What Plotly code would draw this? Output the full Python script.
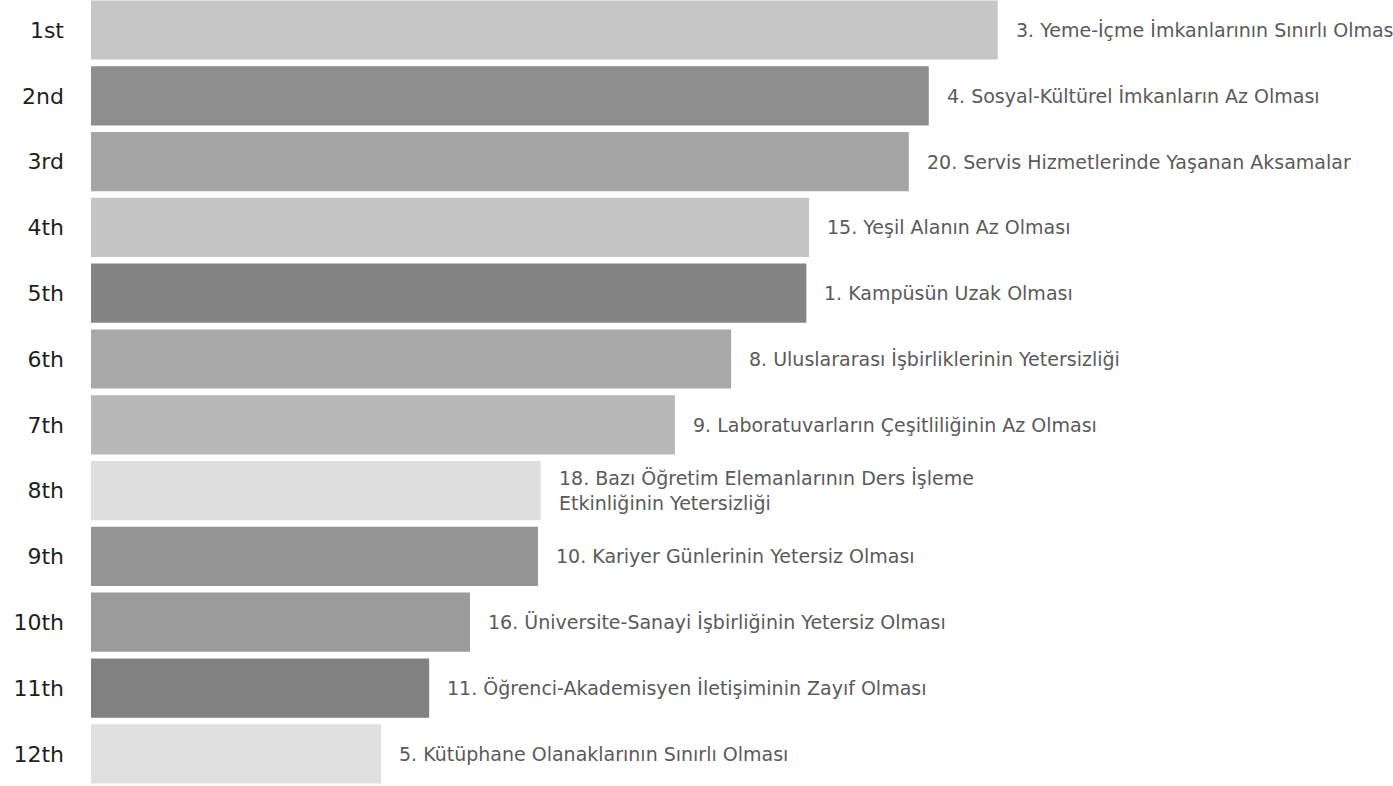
import plotly.graph_objects as go

ranks = ["1st", "2nd", "3rd", "4th", "5th", "6th", "7th", "8th", "9th", "10th", "11th", "12th"]
labels = [
    "3. Yeme-İçme İmkanlarının Sınırlı Olması",
    "4. Sosyal-Kültürel İmkanların Az Olması",
    "20. Servis Hizmetlerinde Yaşanan Aksamalar",
    "15. Yeşil Alanın Az Olması",
    "1. Kampüsün Uzak Olması",
    "8. Uluslararası İşbirliklerinin Yetersizliği",
    "9. Laboratuvarların Çeşitliliğinin Az Olması",
    "18. Bazı Öğretim Elemanlarının Ders İşleme<br>Etkinliğinin Yetersizliği",
    "10. Kariyer Günlerinin Yetersiz Olması",
    "16. Üniversite-Sanayi İşbirliğinin Yetersiz Olması",
    "11. Öğrenci-Akademisyen İletişiminin Zayıf Olması",
    "5. Kütüphane Olanaklarının Sınırlı Olması",
]
scores = [100.0, 92.4, 90.2, 79.2, 78.9, 70.6, 64.4, 49.6, 49.3, 41.8, 37.3, 32.0]
bar_colors = ["#c6c6c6", "#8e8e8e", "#a5a5a5", "#c5c5c5", "#848484", "#a8a8a8",
              "#b9b9b9", "#dedede", "#959595", "#9b9b9b", "#818181", "#e0e0e0"]

fig = go.Figure()
fig.add_trace(go.Bar(
    x=scores, y=ranks, orientation="h",
    marker=dict(color=bar_colors, line=dict(width=0)),
    hoverinfo="skip",
))

for s, r, t in zip(scores, ranks, labels):
    fig.add_annotation(
        x=s, y=r, text=t, showarrow=False, xanchor="left", yanchor="middle",
        align="left", xshift=16,
        font=dict(family="DejaVu Sans", size=19, color="#5a5a5a"),
    )

fig.update_layout(
    width=1393, height=786,
    margin=dict(l=91, r=0, t=0, b=0, autoexpand=False),
    paper_bgcolor="white", plot_bgcolor="white",
    bargap=0.1, showlegend=False,
    xaxis=dict(range=[0, 143.6], visible=False, fixedrange=True, automargin=False),
    yaxis=dict(
        type="category", categoryorder="array", categoryarray=ranks,
        range=[11.489, -0.456], showgrid=False, zeroline=False, automargin=False,
        showline=False, ticks="", ticklabelstandoff=26,
        tickfont=dict(family="DejaVu Sans", size=22, color="#1e1e1e"),
    ),
)

fig.write_html(
    "out.html",
    config={"displayModeBar": False},
    post_script="document.body.style.margin='0';document.body.style.overflow='hidden';",
)
